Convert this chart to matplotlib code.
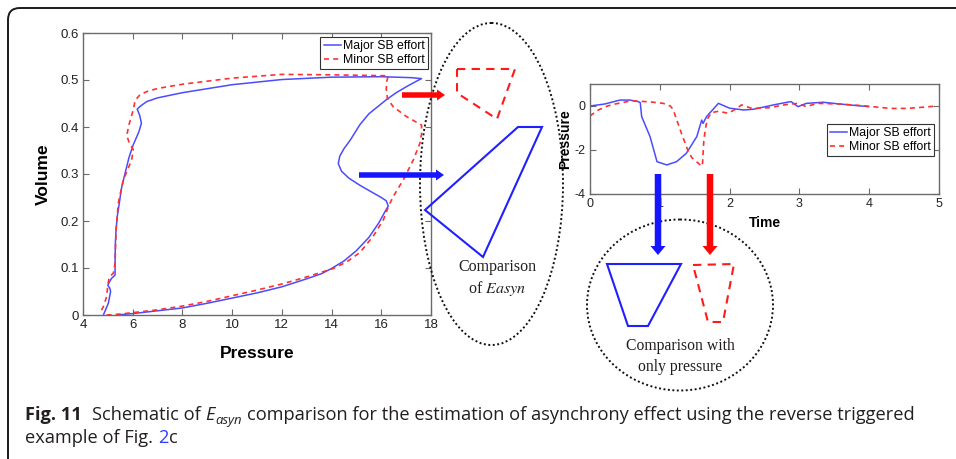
import matplotlib
matplotlib.use('Agg')
import matplotlib.pyplot as plt
from matplotlib.patches import Ellipse, Polygon, FancyArrow, FancyBboxPatch

plt.rcParams['font.family'] = ['Liberation Sans', 'DejaVu Sans']
plt.rcParams['axes.unicode_minus'] = False
plt.rcParams['mathtext.fontset'] = 'stix'

# ---- data: pressure-volume loop (left panel)
major_p = [5.35, 6.0, 7.0, 8.0, 9.0, 10.0, 11.0, 12.0, 13.0, 13.6, 14.0, 14.5, 15.0, 15.5, 15.9,
           16.15, 16.28, 16.2, 16.0, 15.6, 15.14, 14.7, 14.4, 14.27, 14.33, 14.5, 14.75, 15.14,
           15.5, 15.85, 16.2, 16.6, 17.05, 17.4, 17.62, 17.2, 16.0, 14.0, 12.0, 10.0, 8.0, 7.0,
           6.56, 6.3, 6.18, 6.28, 6.35, 6.25, 6.02, 5.85, 5.69, 5.55, 5.46, 5.38, 5.33, 5.3,
           5.29, 5.29, 5.15, 5.05, 5.0, 5.08, 5.11, 5.02, 4.9, 4.82]
major_v = [0.0, 0.003, 0.009, 0.015, 0.025, 0.036, 0.047, 0.060, 0.077, 0.088, 0.099, 0.115,
           0.137, 0.165, 0.196, 0.220, 0.232, 0.243, 0.250, 0.262, 0.276, 0.291, 0.306, 0.322,
           0.338, 0.354, 0.372, 0.405, 0.428, 0.443, 0.458, 0.473, 0.487, 0.497, 0.503, 0.505,
           0.507, 0.506, 0.501, 0.490, 0.473, 0.462, 0.454, 0.444, 0.438, 0.425, 0.408, 0.39,
           0.362, 0.335, 0.301, 0.27, 0.238, 0.21, 0.181, 0.15, 0.11, 0.085, 0.078, 0.069,
           0.063, 0.057, 0.05, 0.025, 0.01, 0.0]
minor_p = [4.95, 5.5, 6.0, 7.0, 8.0, 9.0, 10.0, 11.0, 12.0, 13.0, 14.07, 14.61, 15.14, 15.68,
           16.08, 16.28, 16.48, 16.88, 17.29, 17.55, 17.62, 17.62, 17.02, 16.48, 16.25, 16.2,
           16.22, 16.28, 14.0, 12.0, 10.0, 8.0, 7.0, 6.6, 6.3, 6.1, 6.02, 5.85, 5.76, 5.85,
           6.02, 5.96, 5.8, 5.62, 5.42, 5.33, 5.29, 5.22, 5.06, 5.0, 4.95, 4.82, 4.68]
minor_v = [0.0, 0.002, 0.005, 0.011, 0.019, 0.029, 0.041, 0.053, 0.066, 0.081, 0.099, 0.113,
           0.133, 0.168, 0.202, 0.23, 0.252, 0.287, 0.33, 0.365, 0.385, 0.404, 0.422, 0.443,
           0.46, 0.48, 0.497, 0.509, 0.511, 0.512, 0.504, 0.491, 0.482, 0.476, 0.469, 0.457,
           0.436, 0.405, 0.382, 0.368, 0.352, 0.33, 0.31, 0.287, 0.238, 0.181, 0.11, 0.089,
           0.081, 0.065, 0.039, 0.018, 0.004]

# ---- data: pressure vs time (right panel)
major_t = [0, 0.21, 0.43, 0.57, 0.69, 0.72, 0.74, 0.86, 0.96, 1.10, 1.24, 1.38, 1.53, 1.60,
           1.62, 1.67, 1.84, 2.0, 2.2, 2.34, 2.63, 2.84, 2.88, 2.98, 3.1, 3.34, 3.58, 3.99]
major_pr = [0, 0.09, 0.27, 0.27, 0.2, 0.15, -0.48, -1.39, -2.53, -2.68, -2.53, -2.15, -1.39,
            -0.64, -0.79, -0.48, 0.12, -0.1, -0.18, -0.15, 0.05, 0.18, 0.2, -0.03, 0.12, 0.17,
            0.09, -0.03]
minor_t = [0, 0.12, 0.25, 0.36, 0.6, 0.88, 1.05, 1.15, 1.19, 1.25, 1.31, 1.40, 1.46, 1.58, 1.61,
           1.63, 1.65, 1.68, 1.74, 1.84, 1.98, 2.1, 2.17, 2.32, 2.56, 2.8, 2.98, 3.1, 3.25, 3.58,
           3.96, 4.3, 4.54, 4.75, 4.97]
minor_pr = [-0.45, -0.18, 0.0, 0.09, 0.24, 0.18, 0.12, 0.0, -0.15, -0.7, -1.24, -2.0, -2.35,
            -2.68, -2.73, -1.6, -1.09, -0.6, -0.3, -0.24, -0.33, -0.12, 0.05, -0.11, -0.08, 0.06,
            0.12, -0.03, 0.12, 0.09, 0.0, -0.11, -0.11, -0.06, 0.0]

labels = ['Major SB effort', 'Minor SB effort']
pv_xticks = [4, 6, 8, 10, 12, 14, 16, 18]
pv_yticks = [0, 0.1, 0.2, 0.3, 0.4, 0.5, 0.6]
pv_yticklabels = ['0', '0.1', '0.2', '0.3', '0.4', '0.5', '0.6']
t_xticks = [0, 1, 2, 3, 4, 5]
t_yticks = [-4, -2, 0]

# schematic shapes, in figure pixels
easyn_minor = [(457, 69), (515, 69), (497, 119), (457, 93)]
easyn_major = [(518, 127), (542, 127), (483, 257), (425, 210)]
press_major = [(607, 264), (681, 264), (648, 326), (628, 326)]
press_minor = [(693, 265), (734, 264), (723, 322), (708, 322)]

W, H = 956, 459
BLUE = '#4b4bff'
RED = '#ff3030'
ARROW_BLUE = '#1515ff'
ARROW_RED = '#ff0505'
TXT = '#231f20'

fig = plt.figure(figsize=(W / 100, H / 100), dpi=100)


def matlab_style(ax, size):
    for s in ax.spines.values():
        s.set_color('#6b6b6b')
        s.set_linewidth(1.0)
    ax.tick_params(direction='in', top=True, right=True, length=4, width=0.8,
                   color='#6b6b6b', labelsize=size, labelcolor='#222222', pad=3)


def matlab_legend(ax, anchor):
    leg = ax.legend(loc='upper right', bbox_to_anchor=anchor, borderaxespad=0,
                    fancybox=False, edgecolor='#333333', framealpha=1, fontsize=8.8,
                    handlelength=1.45, handletextpad=0.15, borderpad=0.25, labelspacing=0.15)
    leg.get_frame().set_linewidth(0.8)


# left panel
ax1 = fig.add_axes([83 / W, 1 - 315 / H, 348 / W, 282 / H])
ax1.plot(major_p, major_v, '-', color=BLUE, lw=1.1, label=labels[0])
ax1.plot(minor_p, minor_v, '--', color=RED, lw=1.2, dashes=(3, 2.5), label=labels[1])
ax1.set_xlim(4, 18)
ax1.set_ylim(0, 0.6)
ax1.set_xticks(pv_xticks)
ax1.set_yticks(pv_yticks)
ax1.set_yticklabels(pv_yticklabels)
matlab_style(ax1, 9.5)
ax1.set_xlabel('Pressure', fontsize=12.5, fontweight='bold', va='center')
ax1.set_ylabel('Volume', fontsize=12.5, fontweight='bold', va='center')
ax1.xaxis.set_label_coords(0.5, -0.135)
ax1.yaxis.set_label_coords(-0.115, 0.5)
matlab_legend(ax1, (0.991, 0.986))

# right panel
ax2 = fig.add_axes([590 / W, 1 - 194 / H, 349 / W, 110 / H])
ax2.plot(major_t, major_pr, '-', color=BLUE, lw=1.1, label=labels[0])
ax2.plot(minor_t, minor_pr, '--', color=RED, lw=1.2, dashes=(3, 2.5), label=labels[1])
ax2.set_xlim(0, 5)
ax2.set_ylim(-4, 1)
ax2.set_xticks(t_xticks)
ax2.set_yticks(t_yticks)
matlab_style(ax2, 9)
ax2.set_xlabel('Time', fontsize=10, fontweight='bold', va='center')
ax2.set_ylabel('Pressure', fontsize=10, fontweight='bold', va='center')
ax2.xaxis.set_label_coords(0.5, -0.264)
ax2.yaxis.set_label_coords(-0.072, 0.5)
matlab_legend(ax2, (0.986, 0.636))

# overlay in pixel coordinates for the schematic parts
ov = fig.add_axes([0, 0, 1, 1], zorder=5)
ov.set_xlim(0, W)
ov.set_ylim(H, 0)
ov.axis('off')
ov.patch.set_alpha(0)

ov.add_patch(FancyBboxPatch((8, 8), 1000, 500, boxstyle='round,pad=0,rounding_size=12',
                            fill=False, ec='#1a1a1a', lw=1.4))

dots = (0, (1, 1.3))
ov.add_patch(Ellipse((491.5, 184), 143, 322, fill=False, ec='#111111', lw=1.4, ls=dots))
ov.add_patch(Ellipse((680, 305), 186, 171, fill=False, ec='#111111', lw=1.4, ls=dots))

ov.add_patch(FancyArrow(402, 95, 43, 0, width=5.5, head_width=11, head_length=8,
                        length_includes_head=True, color=ARROW_RED, lw=0))
ov.add_patch(FancyArrow(359, 175, 85, 0, width=5.5, head_width=11, head_length=8,
                        length_includes_head=True, color=ARROW_BLUE, lw=0))
ov.add_patch(FancyArrow(658, 174, 0, 81, width=6.5, head_width=15, head_length=9,
                        length_includes_head=True, color=ARROW_BLUE, lw=0))
ov.add_patch(FancyArrow(710, 174, 0, 81, width=6.5, head_width=15, head_length=9,
                        length_includes_head=True, color=ARROW_RED, lw=0))

ov.add_patch(Polygon(easyn_minor, closed=True, fill=False, ec='#ff1a1a', lw=1.5, ls=(0, (4, 3))))
ov.add_patch(Polygon(easyn_major, closed=True, fill=False, ec='#2020ff', lw=1.5))
ov.add_patch(Polygon(press_major, closed=True, fill=False, ec='#2020ff', lw=1.5))
ov.add_patch(Polygon(press_minor, closed=True, fill=False, ec='#ff1a1a', lw=1.5, ls=(0, (4, 3))))

serif = ['Liberation Serif', 'DejaVu Serif']
ov.text(497, 267, 'Comparison', ha='center', va='center', family=serif, fontsize=11.5, color=TXT)
ov.text(497, 288, 'of $\\mathit{Easyn}$', ha='center', va='center', family=serif,
        fontsize=11.5, color=TXT)
ov.text(680, 346, 'Comparison with', ha='center', va='center', family=serif, fontsize=11.3, color=TXT)
ov.text(680, 367, 'only pressure', ha='center', va='center', family=serif, fontsize=11.3, color=TXT)

# caption, placed piece by piece
renderer = fig.canvas.get_renderer()
cap_font = ['Liberation Sans Narrow', 'Open Sans', 'DejaVu Sans']


def width_of(s, size, **kw):
    t = ov.text(0, 0, s, fontsize=size, family=cap_font, **kw)
    w = t.get_window_extent(renderer).width
    t.remove()
    return w


def put_line(pieces, x, y, size, draw=True):
    sp = width_of('x x', size) - width_of('xx', size)
    for s, kw, scale, dy, gap in pieces:
        if draw:
            ov.text(x, y + dy, s, fontsize=size * scale, family=cap_font, va='baseline',
                    color=kw.get('color', TXT), fontweight=kw.get('weight', 'normal'),
                    fontstyle=kw.get('style', 'normal'))
        x += width_of(s, size * scale, fontweight=kw.get('weight', 'normal'),
                      fontstyle=kw.get('style', 'normal')) + gap * sp
    return x


line1 = [('Fig. 11', {'weight': 'bold'}, 1, 0, 2.2),
         ('Schematic of', {}, 1, 0, 1),
         ('E', {'style': 'italic'}, 1, 0, 0.1),
         ('asyn', {'style': 'italic'}, 0.72, 4, 1),
         ('comparison for the estimation of asynchrony effect using the reverse triggered',
          {}, 1, 0, 0)]
line2 = [('example of Fig.', {}, 1, 0, 1),
         ('2', {'color': '#2a3cff'}, 1, 0, 0.1),
         ('c', {}, 1, 0, 0)]

base = 12
end = put_line(line1, 25, 420, base, draw=False)
size = base * (915 - 25) / (end - 25)
put_line(line1, 25, 420, size)
put_line(line2, 25, 443, size)

fig.savefig('out.png', dpi=100)
